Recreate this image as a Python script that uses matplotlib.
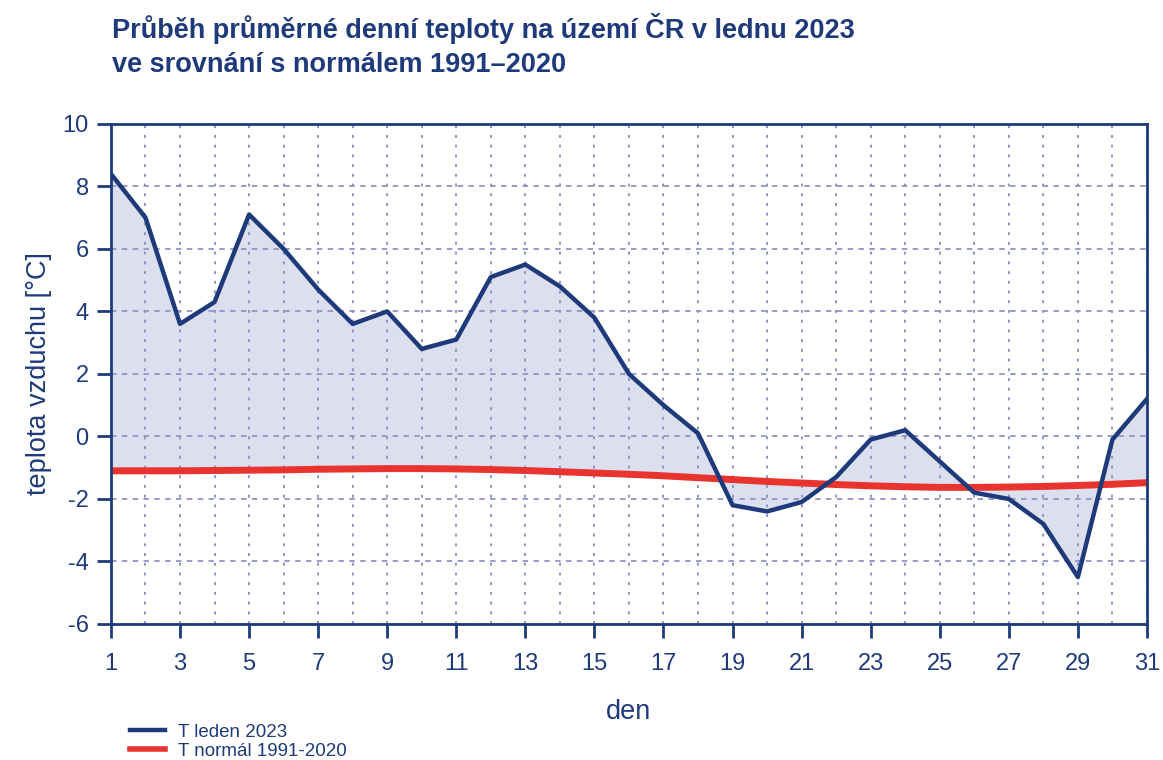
import numpy as np
import matplotlib
matplotlib.use('Agg')
import matplotlib.pyplot as plt
from matplotlib.ticker import FixedLocator, MultipleLocator
from matplotlib.lines import Line2D

plt.rcParams['font.family'] = ['Liberation Sans', 'DejaVu Sans']
plt.rcParams['axes.unicode_minus'] = False

# Données : janvier 2023 vs normál 1991–2020
days = np.arange(1, 32)
t_leden_2023 = [8.4, 7.0, 3.6, 4.3, 7.1, 6.0, 4.7, 3.6, 4.0, 2.8,
                3.1, 5.1, 5.5, 4.8, 3.8, 2.0, 1.0, 0.1, -2.2, -2.4,
                -2.1, -1.3, -0.1, 0.2, -0.8, -1.8, -2.0, -2.8, -4.5, -0.1,
                1.2]
t_normal = [-1.10, -1.10, -1.10, -1.09, -1.08, -1.07, -1.05, -1.04, -1.03, -1.03,
            -1.04, -1.06, -1.09, -1.13, -1.17, -1.21, -1.26, -1.32, -1.38, -1.44,
            -1.49, -1.54, -1.58, -1.61, -1.63, -1.63, -1.62, -1.60, -1.57, -1.53,
            -1.48]
x_ticks = list(range(1, 32, 2))

navy = '#1f3a7a'
red = '#e8332f'
fill_col = '#dcdfee'
grid_col = '#8f94c4'

fig = plt.figure(figsize=(11.63, 7.6), dpi=100)
ax = fig.add_axes([0.0954, 0.179, 0.8908, 0.658])

ax.fill_between(days, t_leden_2023, t_normal, color=fill_col, zorder=1, linewidth=0)
ax.plot(days, t_normal, color=red, linewidth=5, zorder=3)
ax.plot(days, t_leden_2023, color=navy, linewidth=3.2, zorder=4)

ax.set_xlim(1, 31)
ax.set_ylim(-6, 10)
ax.xaxis.set_major_locator(FixedLocator(x_ticks))
ax.xaxis.set_minor_locator(MultipleLocator(1))
ax.yaxis.set_major_locator(MultipleLocator(2))

ax.grid(True, axis='x', which='both', color=grid_col, linestyle=(0, (1.5, 3.5)), linewidth=1.4, zorder=2)
ax.grid(True, axis='y', which='major', color=grid_col, linestyle=(0, (3, 3)), linewidth=1.3, zorder=2)
ax.set_axisbelow(False)

for sp in ax.spines.values():
    sp.set_color(navy)
    sp.set_linewidth(2)
    sp.set_zorder(5)

ax.tick_params(axis='both', which='major', colors=navy, labelsize=17,
               direction='out', length=10, width=2)
ax.tick_params(axis='x', which='minor', length=0)
ax.tick_params(axis='x', pad=11)
ax.tick_params(axis='y', pad=6)

ax.set_xlabel('den', fontsize=19.5, color=navy, va='center')
ax.set_ylabel('teplota vzduchu [°C]', fontsize=19.5, color=navy, va='center')
ax.xaxis.set_label_coords(0.5, -0.176)
ax.yaxis.set_label_coords(-0.069, 0.5)

fig.text(0.096, 0.962, 'Průběh průměrné denní teploty na území ČR v lednu 2023',
         fontsize=19.5, fontweight='bold', color=navy, va='center', ha='left')
fig.text(0.096, 0.915, 've srovnání s normálem 1991–2020',
         fontsize=19.5, fontweight='bold', color=navy, va='center', ha='left')

handles = [Line2D([0], [0], color=navy, linewidth=3.2, label='T leden 2023'),
           Line2D([0], [0], color=red, linewidth=4, label='T normál 1991-2020')]
leg = fig.legend(handles=handles, loc='upper left', bbox_to_anchor=(0.105, 0.058),
                 frameon=False, fontsize=13.5, handlelength=1.9, handletextpad=0.7,
                 labelspacing=0.12, borderaxespad=0)
for txt in leg.get_texts():
    txt.set_color(navy)

plt.savefig('out.png', dpi=100)
